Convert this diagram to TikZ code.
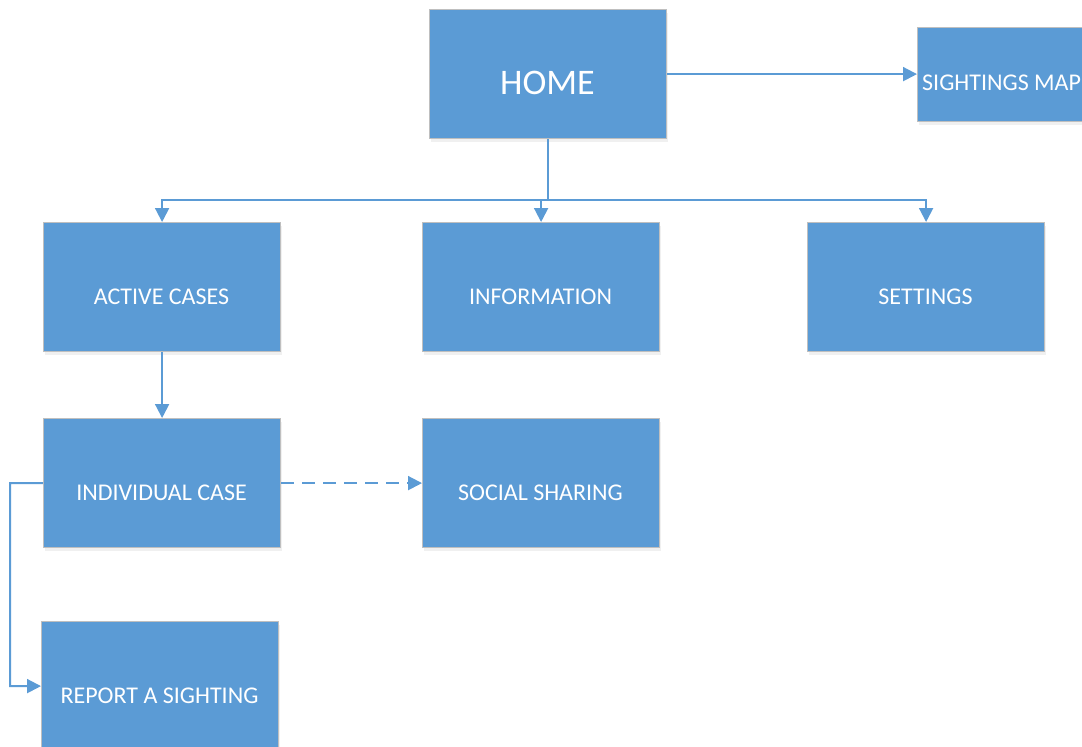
\documentclass[tikz,border=0pt]{standalone}
\usepackage{fontspec}
\setmainfont{Carlito}
\usetikzlibrary{arrows.meta,shadows}
\definecolor{boxblue}{HTML}{5B9BD5}
\definecolor{boxedge}{HTML}{BFBFBF}
\begin{document}
\begin{tikzpicture}[x=1pt,y=-1pt,
  box/.style={rectangle, fill=boxblue, draw=boxedge, line width=1.2pt,
    minimum width=237pt, minimum height=129pt, anchor=north west, inner sep=0pt,
    drop shadow={opacity=0.12, shadow xshift=1pt, shadow yshift=-3pt}},
  txt/.style={text=white, font=\fontsize{24}{28}\selectfont},
  conn/.style={draw=boxblue, line width=2pt},
  arr/.style={conn, -{Triangle[length=14pt,width=14pt]}},
]
\useasboundingbox (0,0) rectangle (1082,747);
\clip (0,0) rectangle (1082,747);

% page boxes
\node[box] (home) at (429,9) {};
\node[txt, font=\fontsize{36}{40}\selectfont] (hometxt) at (547.5,83) {HOME};

\node[box, minimum width=237pt, minimum height=94pt] (map) at (917,27) {};
\node[txt, anchor=west, inner sep=0pt] (maptxt) at (922,83) {SIGHTINGS MAP};

\node[box] (active) at (43,222) {};
\node[txt] (activetxt) at (161.5,297) {ACTIVE CASES};

\node[box] (info) at (422,222) {};
\node[txt] (infotxt) at (540.5,297) {INFORMATION};

\node[box] (settings) at (807,222) {};
\node[txt] (settingstxt) at (925.5,297) {SETTINGS};

\node[box] (indiv) at (43,418) {};
\node[txt] (indivtxt) at (161.5,493) {INDIVIDUAL CASE};

\node[box] (social) at (422,418) {};
\node[txt] (socialtxt) at (540.5,493) {SOCIAL SHARING};

\node[box] (report) at (41,621) {};
\node[txt] (reporttxt) at (159.5,696) {REPORT A SIGHTING};

% connectors
\coordinate (bus) at (home.south |- 0,200);
\draw[arr] (home.east) -- (map.west |- home.east);
\draw[arr] (home.south) -- (bus) -| (active.north);
\draw[arr] (home.south) -- (bus) -| (info.north);
\draw[arr] (home.south) -- (bus) -| (settings.north);
\draw[arr] (active.south) -- (indiv.north);
\draw[arr, dash pattern=on 13pt off 8pt] (indiv.east) -- (social.west);
\coordinate (side) at (10,483);
\draw[arr] (indiv.west) -- (side) |- (report.west);
\end{tikzpicture}
\end{document}
